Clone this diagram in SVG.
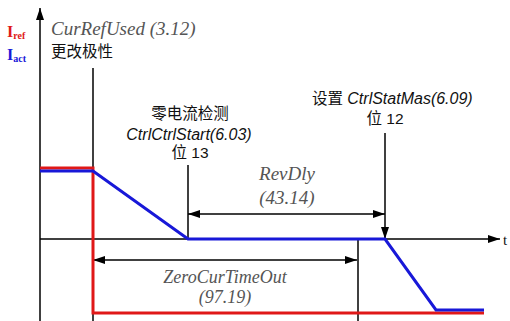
<svg xmlns="http://www.w3.org/2000/svg" width="510" height="321" viewBox="0 0 510 321">
<defs>
<marker id="ah" viewBox="0 0 12 8" refX="12" refY="4" markerWidth="12" markerHeight="8" markerUnits="userSpaceOnUse" orient="auto-start-reverse">
<path d="M0,0 L12,4 L0,8 Z" fill="#000"/>
</marker>
</defs>
<style>
.ax{stroke:#000;stroke-width:1.5;fill:none}
.red{stroke:#e01818;stroke-width:3;fill:none}
.blue{stroke:#1818d8;stroke-width:3;fill:none}
.lab{font-family:"Liberation Serif",serif;font-style:italic;font-size:19px;fill:#555}
.cn{font-family:"Liberation Sans","Noto Sans CJK SC",sans-serif;font-size:15.5px;fill:#111}
.it{font-family:"Liberation Sans","Noto Sans CJK SC",sans-serif;font-style:italic;font-size:16px;fill:#111}
.sym{font-family:"Liberation Serif",serif;font-weight:bold;font-size:16px}
</style>
<rect width="510" height="321" fill="#fff"/>
<g id="axes">
<line class="ax" x1="40" y1="321" x2="40" y2="8" marker-end="url(#ah)"/>
<line class="ax" x1="40" y1="239" x2="500" y2="239" marker-end="url(#ah)"/>
<text x="503" y="245" font-family="Liberation Serif,serif" font-size="15" fill="#111">t</text>
</g>
<g id="ylabel">
<text class="sym" x="7" y="37" fill="#e01818">I<tspan font-size="10" dy="2">ref</tspan></text>
<text class="sym" x="7" y="60" fill="#1818d8">I<tspan font-size="10" dy="2">act</tspan></text>
</g>
<g id="connectors">
<line class="ax" x1="93" y1="68" x2="93" y2="321"/>
<line class="ax" x1="188" y1="165" x2="188" y2="239"/>
<line class="ax" x1="385" y1="133" x2="385" y2="239" marker-end="url(#ah)"/>
<line class="ax" x1="358" y1="239" x2="358" y2="321"/>
<line class="ax" x1="188" y1="214" x2="385" y2="214" marker-start="url(#ah)" marker-end="url(#ah)"/>
<line class="ax" x1="93" y1="260" x2="357" y2="260" marker-start="url(#ah)" marker-end="url(#ah)"/>
</g>
<g id="curves">
<polyline class="red" points="40,168 93,168 93,313 484,313"/>
<polyline class="blue" points="40,171 93,171 188,239 385,239 436,310 484,310"/>
</g>
<g id="n-curref">
<text class="lab" x="51" y="35">CurRefUsed (3.12)</text>
<text class="cn" x="51" y="57">更改极性</text>
</g>
<g id="n-zerodetect">
<text class="cn" x="190" y="119" text-anchor="middle">零电流检测</text>
<text class="it" x="189" y="140" text-anchor="middle">CtrlCtrlStart(6.03)</text>
<text class="cn" x="190" y="158" text-anchor="middle">位 13</text>
</g>
<g id="n-setbit">
<text class="cn" x="312" y="104">设置 <tspan class="it">CtrlStatMas(6.09)</tspan></text>
<text class="cn" x="385" y="124" text-anchor="middle">位 12</text>
</g>
<g id="n-revdly">
<text class="lab" x="287" y="180" text-anchor="middle">RevDly</text>
<text class="lab" x="287" y="204" text-anchor="middle">(43.14)</text>
</g>
<g id="n-zerocur">
<text class="lab" x="225" y="283" font-size="18" style="font-size:18px" text-anchor="middle">ZeroCurTimeOut</text>
<text class="lab" x="225" y="303" style="font-size:18px" text-anchor="middle">(97.19)</text>
</g>
</svg>
